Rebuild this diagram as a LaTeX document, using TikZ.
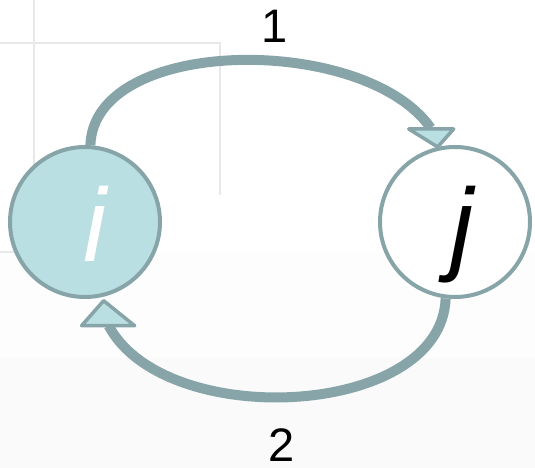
\documentclass[tikz,border=0pt]{standalone}
\usepackage{fontspec}
\setmainfont{Liberation Sans}
\usetikzlibrary{calc}
\definecolor{rim}{HTML}{87A5A8}
\definecolor{pale}{HTML}{BADFE3}
\definecolor{gridline}{HTML}{E8E8E8}

\begin{document}
\begin{tikzpicture}[x=1pt, y=1pt,
    state/.style={circle, draw=rim, line width=4pt, minimum size=150pt, inner sep=0pt,
      text height=80pt, text depth=0pt, font=\fontsize{104}{104}\selectfont\itshape},
    band/.style={draw=rim, line width=10pt},
    head/.style={fill=pale, draw=rim, line width=3.5pt, line join=round},
    lbl/.style={inner sep=0pt, anchor=base, text depth=0pt, font=\fontsize{47}{47}\selectfont}]
  \useasboundingbox (0,0) rectangle (535,468);
  \fill[black!0.6] (0,0) rectangle (535,216);
  \fill[black!2] (0,0) rectangle (535,110);
  \draw[gridline, line width=1.5pt] (34,468) -- (34,216) (0,425) -- (220,425) -- (220,273) (0,216) -- (40,216);
  \node[state, fill=pale, text=white] (i) at (85,246) {\kern20pt i};
  \node[state, fill=white] (j) at (455,246) {\kern14pt j};
  \coordinate (t1) at (j.103);
  \coordinate (b1) at ($(t1)+(-7,19)$);
  \coordinate (t2) at ($(i.284)+(0,-4)$);
  \coordinate (b2) at ($(t2)+(5,-25)$);
  \draw[band] (i.86) .. controls +(88:110) and +(125:115) .. (b1);
  \draw[band] (j.263) .. controls +(268:120) and +(298:120) .. (b2);
  \filldraw[head] (t1) -- ++(-29,18) -- ++(45,0) -- cycle;
  \filldraw[head] (t2) -- ++(-22,-25) -- ++(53,0) -- cycle;
  \node[lbl] (one) at (275,425) {1};
  \node[lbl] (two) at (282,6) {2};
\end{tikzpicture}
\end{document}
